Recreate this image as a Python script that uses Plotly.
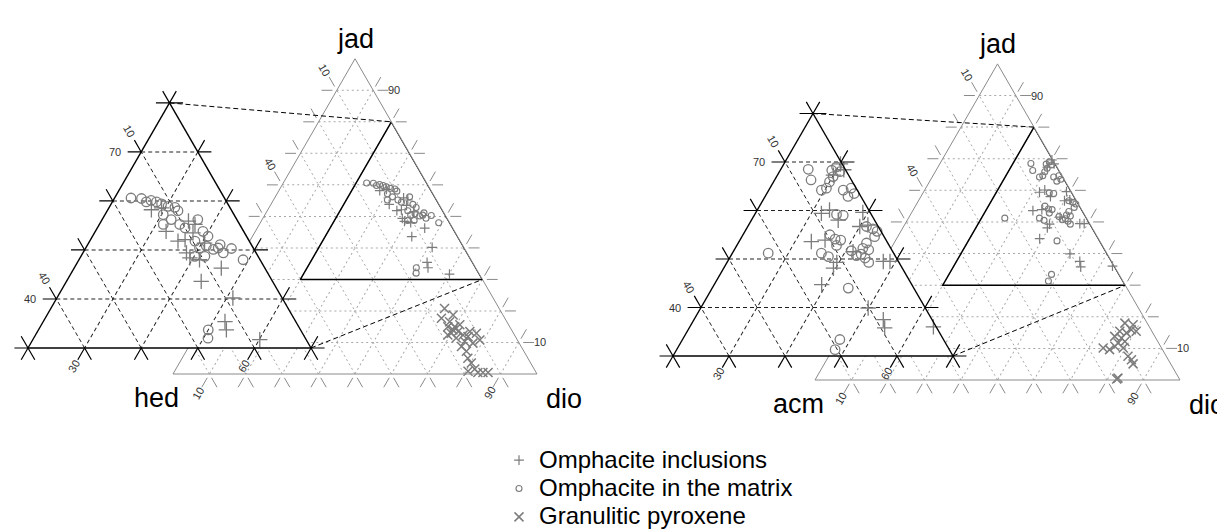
import math
import plotly.graph_objects as go

# ------------------------------------------------------------------
# DATA (end-member proportions in %)
# Left diagram: jad - hed - dio
# ------------------------------------------------------------------
L_INCL_JAD = [58.2, 53.8, 51.8, 55.9, 55.2, 53.5, 49.4, 48.4, 48.0, 43.6, 46.3, 40.2, 35.4, 33.7, 31.7, 51.4, 52.1, 58.6]
L_INCL_HED = [14.1, 13.7, 12.6, 8.7, 7.9, 9.1, 12.3, 12.2, 10.7, 12.6, 7.7, 8.7, 12.5, 13.1, 8.2, 8.1, 11.2, 12.1]
L_INCL_DIO = [27.7, 32.5, 35.6, 35.4, 36.9, 37.4, 38.3, 39.4, 41.3, 43.8, 46.0, 51.1, 52.1, 53.2, 60.1, 40.5, 36.7, 29.3]

L_MATR_JAD = [60.6, 60.5, 59.8, 60.1, 59.8, 59.4, 58.9, 58.7, 58.0, 57.2, 55.2, 56.2, 55.2, 54.5, 56.2, 53.8, 52.8, 51.8, 50.4, 50.8,
              50.1, 50.4, 49.4, 50.3, 51.1, 48.0, 33.7, 32.0, 48.7, 48.7]
L_MATR_HED = [16.5, 14.7, 14.2, 13.2, 12.4, 11.7, 10.8, 9.7, 9.5, 12.5, 13.5, 11.6, 10.6, 10.0, 6.9, 7.2, 6.8, 9.6, 9.5, 8.1,
              7.2, 6.2, 5.8, 3.9, 5.5, 3.0, 16.3, 17.2, 11.2, 9.4]
L_MATR_DIO = [22.9, 24.8, 26.0, 26.7, 27.8, 28.9, 30.3, 31.6, 32.5, 30.3, 31.3, 32.2, 34.2, 35.5, 36.9, 39.0, 40.4, 38.6, 40.1, 41.1,
              42.7, 43.4, 44.8, 45.8, 43.4, 49.0, 50.0, 50.8, 40.1, 41.9]

L_GRAN_JAD = [20.8, 17.7, 16.6, 15.0, 12.9, 13.5, 12.4, 11.4, 10.3, 13.5, 12.9, 9.8, 10.8, 8.7, 7.2, 5.0, 3.5, 1.6, 0.9, 0.5,
              0.5, 0.5, 15.0, 18.7, 14.0, 15.6, 12.4, 11.9]
L_GRAN_HED = [15.0, 17.4, 15.7, 15.1, 17.1, 14.9, 14.1, 16.5, 14.7, 11.7, 10.2, 12.7, 10.3, 16.4, 15.8, 16.5, 16.3, 16.3, 18.5, 16.0,
              14.6, 13.2, 17.0, 13.7, 16.1, 13.4, 18.3, 13.0]
L_GRAN_DIO = [64.2, 64.9, 67.7, 69.9, 70.0, 71.6, 73.5, 72.1, 75.0, 74.8, 76.9, 77.5, 78.9, 74.9, 77.0, 78.5, 80.2, 82.1, 80.6, 83.5,
              84.9, 86.3, 68.0, 67.6, 69.9, 71.0, 69.3, 75.1]

# Right diagram: jad - acm - dio
R_INCL_JAD = [69.6, 68.4, 67.3, 59.4, 60.1, 58.0, 59.6, 57.0, 53.6, 53.9, 49.3, 48.1, 49.5, 49.5, 44.7, 39.9, 37.5, 35.8, 51.5, 56.7, 36.0]
R_INCL_ACM = [0.3, 0.3, 2.7, 8.8, 7.0, 6.5, 1.3, 1.7, 13.5, 10.9, 11.1, 12.3, 2.7, 1.5, 16.1, 10.2, 8.7, 9.3, 7.1, 3.3, 0.5]
R_INCL_DIO = [30.1, 31.3, 30.0, 31.8, 32.9, 35.5, 39.1, 41.3, 32.9, 35.2, 39.6, 39.6, 47.8, 49.0, 39.2, 49.9, 53.8, 54.9, 41.4, 40.0, 63.5]

R_MATR_JAD = [68.5, 66.3, 68.3, 69.0, 68.0, 65.9, 67.0, 64.2, 64.6, 64.2, 62.9, 64.6, 63.5, 59.2, 59.0, 56.7, 56.2, 55.7, 54.6, 55.0,
              54.1, 53.9, 52.8, 51.2, 50.5, 53.3, 52.2, 51.9, 51.0, 50.2, 49.3, 50.7, 51.7, 44.0, 33.4, 31.3, 51.2]
R_MATR_ACM = [6.6, 7.2, 2.5, 1.3, 1.2, 4.1, 2.9, 6.4, 5.3, 2.5, 2.3, 0.9, 0.9, 6.2, 5.1, 2.1, 1.2, 0.7, 1.7, 9.5,
              9.0, 8.1, 9.4, 12.9, 12.0, 3.8, 5.0, 4.1, 5.9, 5.6, 5.4, 6.9, 7.3, 11.7, 18.5, 20.4, 22.4]
R_MATR_DIO = [24.9, 26.5, 29.2, 29.7, 30.8, 30.0, 30.1, 29.4, 30.1, 33.3, 34.8, 34.5, 35.6, 34.6, 35.9, 41.2, 42.6, 43.6, 43.7, 35.5,
              36.9, 38.0, 37.8, 35.9, 37.5, 42.9, 42.8, 44.0, 43.1, 44.2, 45.3, 42.4, 41.0, 44.3, 48.1, 48.3, 26.4]

R_GRAN_JAD = [18.0, 17.5, 15.4, 13.8, 13.3, 14.9, 15.9, 15.4, 11.7, 12.2, 10.7, 10.1, 9.6, 10.1, 6.4, 7.5, 5.1, 0.6, 0.3]
R_GRAN_ACM = [6.1, 4.1, 8.8, 11.0, 9.4, 7.2, 5.4, 4.3, 11.1, 9.0, 12.5, 16.0, 14.5, 10.5, 10.1, 10.5, 10.3, 16.7, 17.2]
R_GRAN_DIO = [75.9, 78.4, 75.8, 75.2, 77.3, 77.9, 78.7, 80.3, 77.2, 78.8, 76.8, 73.9, 75.9, 79.4, 83.5, 82.0, 84.6, 82.7, 82.5]

SERIES_NAMES = ["Omphacite inclusions", "Omphacite in the matrix", "Granulitic pyroxene"]
L_COMPONENTS = ["jad", "hed", "dio"]
R_COMPONENTS = ["jad", "acm", "dio"]

# Enlarged window: lower limits (jad, hed|acm, dio)
ZOOM_MIN = (30, 0, 20)
BIG_MIN = (0, 0, 0)
GRID_STEP = 10

# Tick labels (value shown, placed where that component's grid line meets the edge)
BIG_B_LABELS = [10, 40]   # hed/acm, left edge
BIG_A_LABELS = [90, 10]   # jad, right edge
BIG_C_LABELS = [10, 90]   # dio, bottom edge
ZOOM_A_LABELS = [70, 40]  # jad, left edge
ZOOM_B_LABELS = [10, 40]  # hed/acm, left edge
ZOOM_C_LABELS = [30, 60]  # dio, bottom edge

# ------------------------------------------------------------------
# Layout geometry (pixels): (x of bottom-left corner, y of base, side)
# ------------------------------------------------------------------
FIG_W, FIG_H = 1225, 529
S3 = math.sqrt(3)
BOXES = {
    "L": {"big": (165, 366, 364), "zoom": (20, 340, 283)},
    "R": {"big": (807, 372, 365), "zoom": (665, 348, 280)},
}
IDS = {"L": {"big": "ternary", "zoom": "ternary3"},
       "R": {"big": "ternary2", "zoom": "ternary4"}}

GREY = "#7c7c7c"
FONT = "Liberation Sans, Arial, sans-serif"


def domain(box):
    xl, yb, w = box
    h = w * S3 / 2
    return dict(x=[xl / FIG_W, (xl + w) / FIG_W], y=[1 - yb / FIG_H, 1 - (yb - h) / FIG_H])


def to_px(box, mins, a, b, c):
    xl, yb, w = box
    span = 100.0 - sum(mins)
    fa = (a - mins[0]) / span
    fc = (c - mins[2]) / span
    return xl + w * (fc + fa / 2.0), yb - w * S3 / 2.0 * fa


def to_paper(px, py):
    return px / FIG_W, 1 - py / FIG_H


def axis(mn, lc, lw, gc, gd):
    return dict(min=mn, showline=True, linecolor=lc, linewidth=lw,
                showgrid=True, gridcolor=gc, griddash=gd, gridwidth=1,
                ticks="", showticklabels=False, tickmode="linear", tick0=0, dtick=GRID_STEP,
                title=dict(text=""))


def tick_path(box, mins, vals, L, gap=0.0):
    """SVG path (paper coords) extending every grid line beyond both triangle edges."""
    am, bm, cm = mins
    parts = []

    def seg(p, d):
        q0 = [p[k] + d[k] * gap for k in range(3)]
        q1 = [p[k] + d[k] * (1 + gap) for k in range(3)]
        x0, y0 = to_paper(*to_px(box, mins, *q0))
        x1, y1 = to_paper(*to_px(box, mins, *q1))
        parts.append("M%.5f,%.5fL%.5f,%.5f" % (x0, y0, x1, y1))

    for v in vals[0]:
        seg((v, 100 - v - cm, cm), (0, L, -L))
        seg((v, bm, 100 - v - bm), (0, -L, L))
    for v in vals[1]:
        seg((100 - v - cm, v, cm), (L, 0, -L))
        seg((am, v, 100 - v - am), (-L, 0, L))
    for v in vals[2]:
        seg((100 - v - bm, bm, v), (L, -L, 0))
        seg((am, 100 - v - am, v), (-L, L, 0))
    return "".join(parts)


LEFTDIR = (-1.0, 0.0)
RIGHTDIR = (1.0, 0.0)
UPLEFT = (-0.5, -S3 / 2)
DOWNLEFT = (-0.5, S3 / 2)


def label(box, mins, pt, d, dist, text, angle, size=11, color="#333333"):
    px, py = to_px(box, mins, *pt)
    x, y = to_paper(px + d[0] * dist, py + d[1] * dist)
    return dict(x=x, y=y, xref="paper", yref="paper", text=text, showarrow=False,
                textangle=angle, xanchor="center", yanchor="middle",
                font=dict(family=FONT, size=size, color=color))


fig = go.Figure()
annotations = []
shapes = []
layout_ternaries = {}

panels = {
    "L": dict(comp=L_COMPONENTS,
              data=[(L_INCL_JAD, L_INCL_HED, L_INCL_DIO),
                    (L_MATR_JAD, L_MATR_HED, L_MATR_DIO),
                    (L_GRAN_JAD, L_GRAN_HED, L_GRAN_DIO)]),
    "R": dict(comp=R_COMPONENTS,
              data=[(R_INCL_JAD, R_INCL_ACM, R_INCL_DIO),
                    (R_MATR_JAD, R_MATR_ACM, R_MATR_DIO),
                    (R_GRAN_JAD, R_GRAN_ACM, R_GRAN_DIO)]),
}

BIG_MARKERS = [
    dict(symbol="cross-thin", size=7, line=dict(color=GREY, width=1.2), color=GREY),
    dict(symbol="circle-open", size=6, line=dict(width=1.1), color=GREY),
    dict(symbol="x-thin", size=9, line=dict(color=GREY, width=1.5), color=GREY),
]
ZOOM_MARKERS = [
    dict(symbol="cross-thin", size=11, line=dict(color=GREY, width=1.3), color=GREY),
    dict(symbol="circle-open", size=9.5, line=dict(width=1.3), color=GREY),
]

LEGEND_TEXT_PX = 24

for key in ["L", "R"]:
    p = panels[key]
    bbox, zbox = BOXES[key]["big"], BOXES[key]["zoom"]
    bid, zid = IDS[key]["big"], IDS[key]["zoom"]

    layout_ternaries[bid] = dict(
        domain=domain(bbox), sum=100, bgcolor="white",
        aaxis=axis(BIG_MIN[0], "#8a8a8a", 1, "#a8a8a8", "2px,3px"),
        baxis=axis(BIG_MIN[1], "#8a8a8a", 1, "#a8a8a8", "2px,3px"),
        caxis=axis(BIG_MIN[2], "#8a8a8a", 1, "#a8a8a8", "2px,3px"))
    layout_ternaries[zid] = dict(
        domain=domain(zbox), sum=100, bgcolor="white",
        aaxis=axis(ZOOM_MIN[0], "black", 1.4, "#222222", "4px,3px"),
        baxis=axis(ZOOM_MIN[1], "black", 1.4, "#222222", "4px,3px"),
        caxis=axis(ZOOM_MIN[2], "black", 1.4, "#222222", "4px,3px"))

    # --- tick marks (grid line extensions) ---
    big_vals = [list(range(10, 91, GRID_STEP))] * 3
    shapes.append(dict(type="path", xref="paper", yref="paper", layer="below",
                       path=tick_path(bbox, BIG_MIN, big_vals, 3.0, gap=0.4),
                       line=dict(color="#8a8a8a", width=1)))
    zmax = [100 - ZOOM_MIN[1] - ZOOM_MIN[2], 100 - ZOOM_MIN[0] - ZOOM_MIN[2], 100 - ZOOM_MIN[0] - ZOOM_MIN[1]]
    zoom_vals = [list(range(ZOOM_MIN[i], zmax[i] + 1, GRID_STEP)) for i in range(3)]
    shapes.append(dict(type="path", xref="paper", yref="paper", layer="above",
                       path=tick_path(zbox, ZOOM_MIN, zoom_vals, 2.4),
                       line=dict(color="black", width=1.2)))

    # --- outline of the enlarged window inside the full triangle ---
    am, bm, cm = ZOOM_MIN
    corners = [(100 - bm - cm, bm, cm), (am, 100 - am - cm, cm), (am, bm, 100 - am - bm)]
    fig.add_trace(go.Scatterternary(
        a=[q[0] for q in corners] + [corners[0][0]],
        b=[q[1] for q in corners] + [corners[0][1]],
        c=[q[2] for q in corners] + [corners[0][2]],
        subplot=bid, mode="lines", line=dict(color="black", width=1.5),
        cliponaxis=False, showlegend=False, hoverinfo="skip"))

    # --- data ---
    for i, (ja, bb, dd) in enumerate(p["data"]):
        fig.add_trace(go.Scatterternary(
            a=ja, b=bb, c=dd, subplot=bid, mode="markers",
            name='<span style="font-size:%dpx">%s</span>' % (LEGEND_TEXT_PX, SERIES_NAMES[i]),
            marker=BIG_MARKERS[i], cliponaxis=False, legendrank=i + 1,
            showlegend=(key == "L")))
        if i < 2:
            fig.add_trace(go.Scatterternary(
                a=ja, b=bb, c=dd, subplot=zid, mode="markers", name=SERIES_NAMES[i],
                marker=ZOOM_MARKERS[i], cliponaxis=False, showlegend=False))

    # --- dashed connectors between the window and its enlargement ---
    for q in (corners[0], corners[2]):
        x0, y0 = to_paper(*to_px(zbox, ZOOM_MIN, *q))
        x1, y1 = to_paper(*to_px(bbox, BIG_MIN, *q))
        shapes.append(dict(type="line", xref="paper", yref="paper", x0=x0, y0=y0, x1=x1, y1=y1,
                           line=dict(color="black", width=1, dash="5px,3px")))

    # --- tick labels ---
    bam, bbm, bcm = BIG_MIN
    for v in BIG_B_LABELS:
        annotations.append(label(bbox, BIG_MIN, (100 - v - bcm, v, bcm), UPLEFT, 24, str(v), 60))
    for v in BIG_A_LABELS:
        annotations.append(label(bbox, BIG_MIN, (v, bbm, 100 - v - bbm), RIGHTDIR, 21, str(v), 0))
    for v in BIG_C_LABELS:
        annotations.append(label(bbox, BIG_MIN, (bam, 100 - v - bam, v), DOWNLEFT, 22, str(v), -60))
    for v in ZOOM_A_LABELS:
        annotations.append(label(zbox, ZOOM_MIN, (v, 100 - v - cm, cm), LEFTDIR, 26, str(v), 0))
    for v in ZOOM_B_LABELS:
        annotations.append(label(zbox, ZOOM_MIN, (100 - v - cm, v, cm), UPLEFT, 24, str(v), 60))
    for v in ZOOM_C_LABELS:
        annotations.append(label(zbox, ZOOM_MIN, (am, 100 - v - am, v), DOWNLEFT, 21, str(v), -60))

    # --- component names at the vertices of the full triangle ---
    apex = to_px(bbox, BIG_MIN, 100, 0, 0)
    bl = to_px(bbox, BIG_MIN, 0, 100, 0)
    br = to_px(bbox, BIG_MIN, 0, 0, 100)
    for (px, py), (dx, dy), name in [(apex, (0, -20), p["comp"][0]),
                                     (bl, (-17, 24), p["comp"][1]),
                                     (br, (27, 25), p["comp"][2])]:
        x, y = to_paper(px + dx, py + dy)
        annotations.append(dict(x=x, y=y, xref="paper", yref="paper", text=name, showarrow=False,
                                xanchor="center", yanchor="middle",
                                font=dict(family=FONT, size=27, color="black")))

fig.update_layout(
    width=FIG_W, height=FIG_H,
    margin=dict(l=0, r=0, t=0, b=0, autoexpand=False),
    paper_bgcolor="white", plot_bgcolor="white",
    hovermode=False,
    annotations=annotations, shapes=shapes,
    showlegend=True,
    legend=dict(x=491 / FIG_W, y=1 - 433 / FIG_H, xanchor="left", yanchor="top",
                bgcolor="rgba(0,0,0,0)", font=dict(family=FONT, size=19.5, color="black"),
                itemsizing="trace", traceorder="normal", tracegroupgap=0),
    **layout_ternaries,
)

fig.write_html("out.html")
